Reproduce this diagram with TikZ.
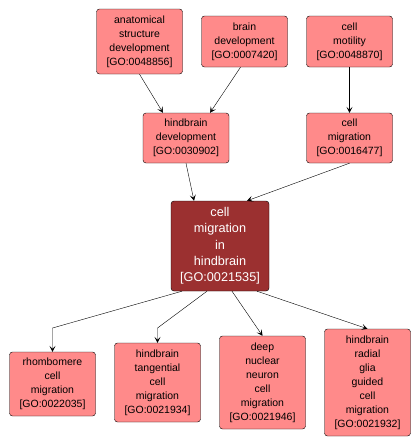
\documentclass[tikz,border=0pt]{standalone}
\usepackage{fontspec}
\setmainfont{Liberation Sans}
\usetikzlibrary{arrows.meta}
\definecolor{gopink}{RGB}{255,138,138}
\definecolor{godark}{RGB}{155,48,48}
\tikzset{
  goterm/.style={draw=black, fill=gopink, rounded corners=3pt, align=center, inner sep=1pt,
    font=\fontsize{10.5}{14}\selectfont, minimum width=86pt},
  gomain/.style={goterm, fill=godark, text=white, font=\fontsize{12.7}{16.3}\selectfont},
  isa/.style={-{Stealth[length=6pt, width=6pt, inset=3pt]}, black}
}
\begin{document}
\begin{tikzpicture}[x=1pt, y=-1pt]
    \useasboundingbox (0,0) rectangle (420,448);
    % Terminos superiores
    \node[goterm, minimum height=65pt] (anatom) at (139.5,41.5) {anatomical\\structure\\development\\{}[GO:0048856]};
    \node[goterm, minimum height=51pt] (brain) at (244.5,41.5) {brain\\development\\{}[GO:0007420]};
    \node[goterm, minimum height=51pt] (motility) at (349.5,41.5) {cell\\motility\\{}[GO:0048870]};
    \node[goterm, minimum height=50pt] (hbdev) at (186,138) {hindbrain\\development\\{}[GO:0030902]};
    \node[goterm, minimum height=50pt] (cellmig) at (349.5,138) {cell\\migration\\{}[GO:0016477]};

    % Termino central
    \node[gomain, minimum width=98pt, minimum height=90pt] (cmih) at (220,246) {cell\\migration\\in\\hindbrain\\{}[GO:0021535]};

    % Terminos hijos
    \node[goterm, minimum height=64pt] (rhomb) at (52.5,384) {rhombomere\\cell\\migration\\{}[GO:0022035]};
    \node[goterm, minimum height=79pt] (tang) at (157.5,382.5) {hindbrain\\tangential\\cell\\migration\\{}[GO:0021934]};
    \node[goterm, minimum height=93pt] (deep) at (262.5,382.5) {deep\\nuclear\\neuron\\cell\\migration\\{}[GO:0021946]};
    \node[goterm, minimum height=107pt] (radial) at (367.5,382.5) {hindbrain\\radial\\glia\\guided\\cell\\migration\\{}[GO:0021932]};

    % Puntos de quiebre
    \coordinate (rbend) at (52.5,328);
    \coordinate (tbend) at (157.5,328);

    % Relaciones
    \draw[isa] (anatom.south) -- ([xshift=-23pt]hbdev.north);
    \draw[isa] ([xshift=-4pt]brain.south) -- ([xshift=24pt]hbdev.north);
    \draw[isa] (motility.south) -- (cellmig.north);
    \draw[isa] (hbdev.south) -- ([xshift=-26pt]cmih.north);
    \draw[isa] (cellmig.south) -- ([xshift=27pt]cmih.north);
    \draw[isa] ([xshift=-38pt]cmih.south) -- (rbend) -- (rhomb.north);
    \draw[isa] ([xshift=-13pt]cmih.south) -- (tbend) -- (tang.north);
    \draw[isa] ([xshift=12pt]cmih.south) -- (deep.north);
    \draw[isa] ([xshift=37pt]cmih.south) -- (radial.north);
\end{tikzpicture}
\end{document}
